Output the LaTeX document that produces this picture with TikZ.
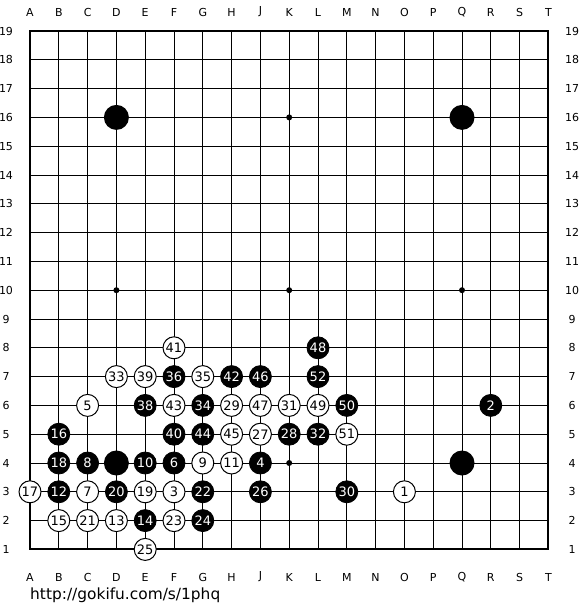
\documentclass[tikz,border=0pt]{standalone}
\usepackage{fontspec}
\setmainfont{DejaVu Sans}
\begin{document}
\begin{tikzpicture}[x=1pt,y=-1pt,
  lbl/.style={font=\fontsize{11}{12}\selectfont,inner sep=0pt},
  bstone/.style={circle,fill=black,draw=black,line width=0.8pt,minimum size=22pt,inner sep=0pt,text=white,font=\fontsize{13}{14}\selectfont},
  wstone/.style={circle,fill=white,draw=black,line width=1pt,minimum size=22pt,inner sep=0pt,text=black,font=\fontsize{13}{14}\selectfont},
  bigstone/.style={circle,fill=black,minimum size=25pt,inner sep=0pt},
  hoshi/.style={circle,fill=black,minimum size=6pt,inner sep=0pt},
  gridline/.style={line width=1pt},
  border/.style={line width=2pt}]
\useasboundingbox[fill=white] (0,0) rectangle (580,610);
% board points
\foreach \c [count=\i from 0] in {A,B,C,D,E,F,G,H,J,K,L,M,N,O,P,Q,R,S,T}{
  \foreach \r in {1,...,19}{
    \coordinate (\c\r) at ({30+\i*28.8},{31+(19-\r)*28.8});
  }
}
% grid
\foreach \c in {B,C,D,E,F,G,H,J,K,L,M,N,O,P,Q,R,S}{
  \draw[gridline] (\c1) -- (\c19);
}
\foreach \r in {2,...,18}{
  \draw[gridline] (A\r) -- (T\r);
}
\draw[border] (A1) rectangle (T19);
% coordinate labels
\foreach \c [count=\i from 0] in {A,B,C,D,E,F,G,H,J,K,L,M,N,O,P,Q,R,S,T}{
  \node[lbl] (top\c) at ({30+\i*28.8},12) {\c};
  \node[lbl] (bot\c) at ({30+\i*28.8},577) {\c};
}
\foreach \r in {1,...,19}{
  \node[lbl] (left\r) at (6,{31+(19-\r)*28.8}) {\r};
  \node[lbl] (right\r) at (572,{31+(19-\r)*28.8}) {\r};
}
% hoshi
\foreach \p in {K16,D10,K10,Q10,K4}{
  \node[hoshi] (h\p) at (\p) {};
}
% big unnumbered stones
\foreach \p in {D16,Q16,D4,Q4}{
  \node[bigstone] (g\p) at (\p) {};
}
% numbered stones
\foreach \p/\n in {O3/1,F3/3,C6/5,C3/7,G4/9,H4/11,D2/13,B2/15,A3/17,E3/19,C2/21,F2/23,E1/25,J5/27,H6/29,K6/31,D7/33,G7/35,E7/39,F8/41,F6/43,H5/45,J6/47,L6/49,M5/51}{
  \node[wstone] (s\n) at (\p) {\n};
}
\foreach \p/\n in {R6/2,J4/4,F4/6,C4/8,E4/10,B3/12,E2/14,B5/16,B4/18,D3/20,G3/22,G2/24,J3/26,K5/28,M3/30,L5/32,G6/34,F7/36,E6/38,F5/40,H7/42,G5/44,J7/46,L8/48,M6/50,L7/52}{
  \node[bstone] (s\n) at (\p) {\n};
}
% url
\node[anchor=base west,inner sep=0pt,font=\fontsize{15.4}{16}\selectfont] (url) at (30,599) {http://gokifu.com/s/1phq};
\end{tikzpicture}
\end{document}
